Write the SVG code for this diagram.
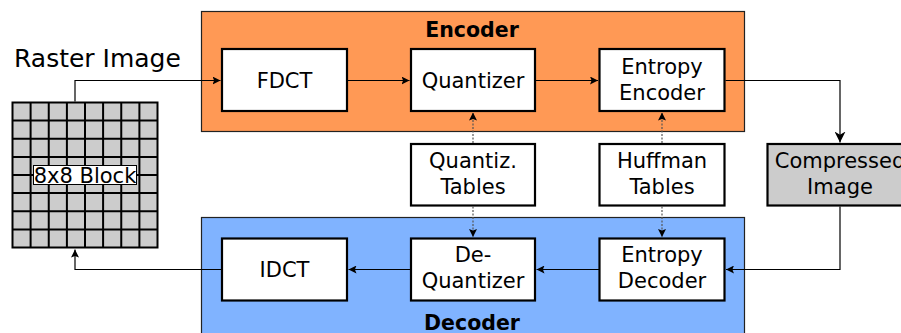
<svg xmlns="http://www.w3.org/2000/svg" width="901" height="333" viewBox="0 0 901 333">
<defs>
<style>
text{font-family:"DejaVu Sans","Liberation Sans",sans-serif;fill:#000;}
.t{font-size:21px;text-anchor:middle;}
.h{font-size:20.5px;font-weight:bold;text-anchor:middle;}
.box{fill:#fff;stroke:#000;stroke-width:2.2;}
.c{fill:none;stroke:#000;stroke-width:1.2;}
.d{fill:none;stroke:#555;stroke-width:1.2;stroke-dasharray:2,1.5;}
</style>
<marker id="ah" viewBox="0 0 10 10" refX="10" refY="5" markerWidth="8" markerHeight="8" markerUnits="userSpaceOnUse" orient="auto">
<path d="M0,0 L10,5 L0,10 L2,5 Z" fill="#000"/>
</marker>
<marker id="ahb" viewBox="0 0 10 10" refX="10" refY="5" markerWidth="11" markerHeight="11" markerUnits="userSpaceOnUse" orient="auto">
<path d="M0,0 L10,5 L0,10 L3,5 Z" fill="#000"/>
</marker>
</defs>
<rect width="901" height="333" fill="#fff"/>

<g id="encoder">
<rect x="201.5" y="11.5" width="543" height="120" fill="#ff9955" stroke="#222" stroke-width="1.2"/>
<text class="h" x="472" y="37">Encoder</text>
</g>
<g id="decoder">
<rect x="201.5" y="217.5" width="543" height="130" fill="#80b3ff" stroke="#222" stroke-width="1.2"/>
<text class="h" x="472" y="330">Decoder</text>
</g>

<g id="raster">
<text x="14" y="67" style="font-size:25px">Raster Image</text>
<rect x="12.5" y="102.5" width="145" height="145" fill="#cccccc" stroke="#000" stroke-width="2"/>
<path d="M30.6,102.5V247.5M48.75,102.5V247.5M66.9,102.5V247.5M85,102.5V247.5M103.1,102.5V247.5M121.25,102.5V247.5M139.4,102.5V247.5M12.5,120.6H157.5M12.5,138.75H157.5M12.5,156.9H157.5M12.5,175H157.5M12.5,193.1H157.5M12.5,211.25H157.5M12.5,229.4H157.5" stroke="#000" stroke-width="2" fill="none"/>
<rect x="33.5" y="165.5" width="103" height="19" fill="#fff" stroke="#000" stroke-width="1"/>
<text class="t" x="85" y="182.5">8x8 Block</text>
</g>

<g id="fdct"><rect class="box" x="222" y="49" width="125" height="62"/><text class="t" x="284.5" y="88">FDCT</text></g>
<g id="quantizer"><rect class="box" x="411" y="49" width="124" height="62"/><text class="t" x="473" y="88">Quantizer</text></g>
<g id="entropy-encoder"><rect class="box" x="599.5" y="49" width="125" height="62"/><text class="t" x="662" y="74">Entropy</text><text class="t" x="662" y="100">Encoder</text></g>
<g id="quantiz-tables"><rect class="box" x="411" y="144" width="124" height="61.5"/><text class="t" x="473" y="168">Quantiz.</text><text class="t" x="473" y="194">Tables</text></g>
<g id="huffman-tables"><rect class="box" x="599.5" y="144" width="125" height="61.5"/><text class="t" x="662" y="168">Huffman</text><text class="t" x="662" y="194">Tables</text></g>
<g id="compressed-image"><rect x="767.5" y="144" width="146" height="61.5" fill="#cccccc" stroke="#000" stroke-width="2.2"/><text class="t" x="840" y="168">Compressed</text><text class="t" x="840" y="194">Image</text></g>
<g id="idct"><rect class="box" x="222" y="238.5" width="125" height="62"/><text class="t" x="284.5" y="277">IDCT</text></g>
<g id="dequantizer"><rect class="box" x="411" y="238.5" width="124" height="62"/><text class="t" x="473" y="262">De-</text><text class="t" x="473" y="288">Quantizer</text></g>
<g id="entropy-decoder"><rect class="box" x="599.5" y="238.5" width="125" height="62"/><text class="t" x="662" y="262">Entropy</text><text class="t" x="662" y="288">Decoder</text></g>

<g id="connectors">
<path class="c" d="M75,101.5V80.5H220.5" marker-end="url(#ah)"/>
<path class="c" d="M347,80.5H409.5" marker-end="url(#ah)"/>
<path class="c" d="M535,80.5H598" marker-end="url(#ah)"/>
<path class="c" d="M725.5,80.5H840V142.5" marker-end="url(#ahb)"/>
<path class="c" d="M840,206.5V269.5H726" marker-end="url(#ah)"/>
<path class="c" d="M599,269.5H536.5" marker-end="url(#ah)"/>
<path class="c" d="M411,269.5H348.5" marker-end="url(#ah)"/>
<path class="c" d="M222,269.5H75V249.5" marker-end="url(#ah)" stroke="#444"/>
<path class="d" d="M473,143V112.5" marker-end="url(#ah)"/>
<path class="d" d="M473,206.5V237" marker-end="url(#ah)"/>
<path class="d" d="M662,143V112.5" marker-end="url(#ah)"/>
<path class="d" d="M662,206.5V237" marker-end="url(#ah)"/>
</g>
</svg>
